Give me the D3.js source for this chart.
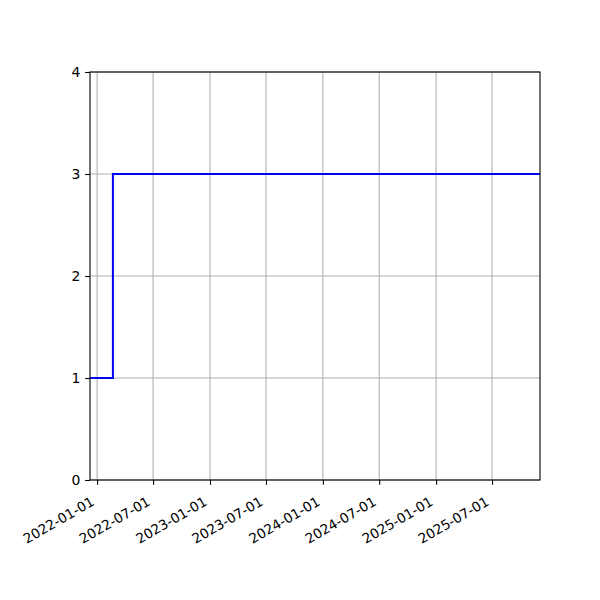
<!DOCTYPE html>
<html><head><meta charset="utf-8">
<script src="https://cdn.jsdelivr.net/npm/d3@7"></script>
<style>body{margin:0;background:#fff}svg{display:block}text{font-family:"DejaVu Sans",sans-serif}</style>
</head><body><div id="chart"></div>
<script>
const xDomain = ["2021-12-09", "2025-12-03"];
const stepDates = ["2021-12-09", "2022-02-21", "2025-12-03"];
const stepValues = [1, 3, 3];
const xTickLabels = ["2022-01-01","2022-07-01","2023-01-01","2023-07-01","2024-01-01","2024-07-01","2025-01-01","2025-07-01"];
const yTicks = [0, 1, 2, 3, 4];

const W = 600, H = 600;
const m = {left: 90, right: 540, top: 72, bottom: 480};
const parse = d3.utcParse("%Y-%m-%d");
const fmt = d3.utcFormat("%Y-%m-%d");
const svg = d3.select("#chart").append("svg").attr("width", W).attr("height", H);

const x = d3.scaleUtc().domain(xDomain.map(parse)).range([m.left, m.right]);
const y = d3.scaleLinear().domain([0, 4]).range([m.bottom, m.top]);
const fs = 13.6, tickLen = 4.86, pad = 4.86;

// grid
const grid = svg.append("g");
xTickLabels.forEach(t => {
  const px = x(parse(t));
  grid.append("line").attr("x1", px).attr("x2", px).attr("y1", m.top).attr("y2", m.bottom)
    .attr("stroke", "#b0b0b0").attr("stroke-width", 1.1);
});
yTicks.forEach(t => {
  grid.append("line").attr("x1", m.left).attr("x2", m.right).attr("y1", y(t)).attr("y2", y(t))
    .attr("stroke", "#b0b0b0").attr("stroke-width", 1.1);
});

// line
const data = stepDates.map((d, i) => ({date: parse(d), v: stepValues[i]}));
svg.append("path").datum(data)
  .attr("d", d3.line().x(d => x(d.date)).y(d => y(d.v)).curve(d3.curveStepAfter))
  .attr("fill", "none").attr("stroke", "#0000ff").attr("stroke-width", 2);

// x axis
const xAxis = d3.axisBottom(x).tickValues(xTickLabels.map(parse)).tickFormat(fmt).tickSizeInner(tickLen).tickSizeOuter(0);
const gx = svg.append("g").attr("transform", `translate(0,${m.bottom})`).call(xAxis);
gx.select(".domain").remove();
gx.selectAll(".tick line").attr("stroke", "#000").attr("stroke-width", 1.1);
gx.selectAll(".tick text")
  .attr("font-size", fs).attr("fill", "#000").attr("text-anchor", "end").attr("font-family", "DejaVu Sans")
  .attr("x", -1).attr("y", 0).attr("dy", (-0.236 * fs) + "px")
  .attr("transform", `translate(0,${tickLen + pad + 17}) rotate(-30)`);

// y axis
const yAxis = d3.axisLeft(y).tickValues(yTicks).tickFormat(d3.format("d")).tickSizeInner(tickLen).tickSizeOuter(0).tickPadding(pad);
const gy = svg.append("g").attr("transform", `translate(${m.left},0)`).call(yAxis);
gy.select(".domain").remove();
gy.selectAll(".tick line").attr("stroke", "#000").attr("stroke-width", 1.1);
gy.selectAll(".tick text").attr("font-size", 13.9).attr("fill", "#000").attr("font-family", "DejaVu Sans");

// frame
svg.append("rect").attr("x", m.left).attr("y", m.top).attr("width", m.right - m.left).attr("height", m.bottom - m.top)
  .attr("fill", "none").attr("stroke", "#000").attr("stroke-width", 1.1);
</script></body></html>
